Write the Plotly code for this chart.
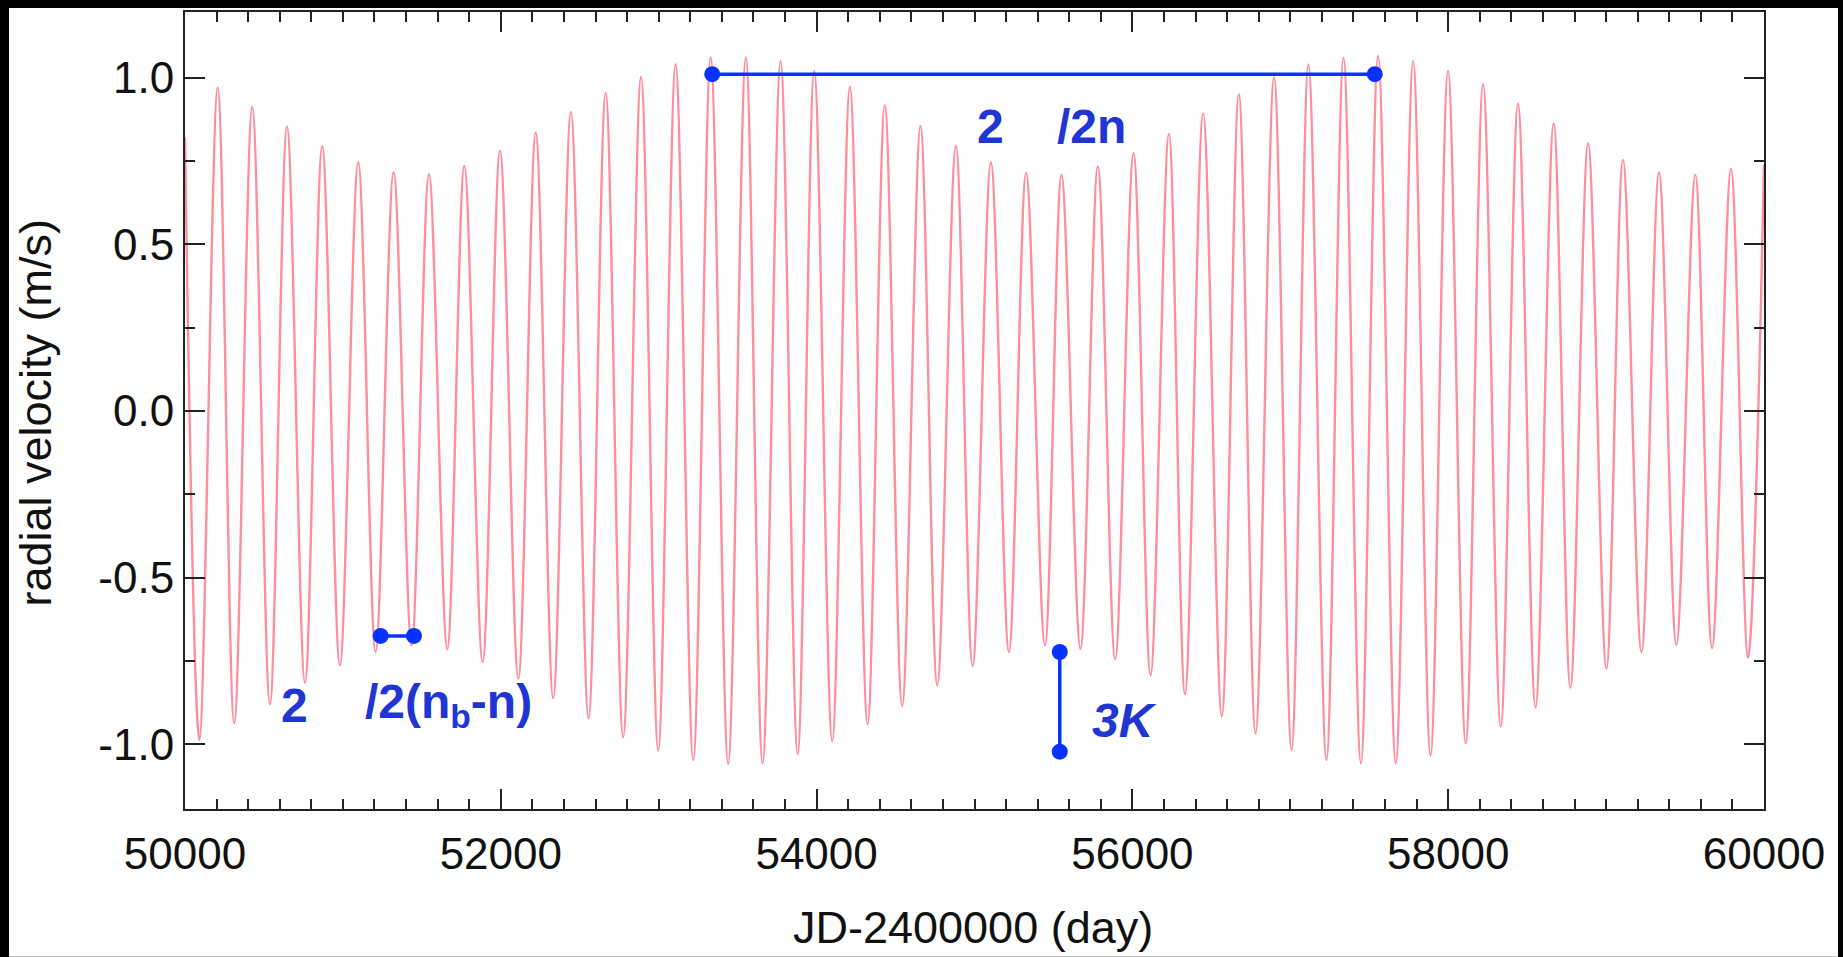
import plotly.graph_objects as go

# ---- data ----
start_day, start_rv = 50000, 0.82
end_day, end_rv = 60000, 0.74

peak_days = [50207, 50426, 50646, 50869, 51097, 51321, 51545, 51769, 51995, 52221,
             52444, 52664, 52888, 53107, 53329, 53552, 53772, 53985, 54211, 54432,
             54658, 54882, 55104, 55327, 55551, 55781, 56007, 56231, 56448, 56674,
             56897, 57115, 57337, 57556, 57778, 57999, 58221, 58442, 58668, 58886,
             59107, 59335, 59565, 59791]
peak_rv = [0.970, 0.912, 0.853, 0.794, 0.745, 0.715, 0.710, 0.735, 0.780, 0.835,
           0.897, 0.954, 1.002, 1.040, 1.060, 1.060, 1.049, 1.020, 0.972, 0.917,
           0.855, 0.795, 0.745, 0.714, 0.708, 0.733, 0.773, 0.831, 0.892, 0.950,
           1.000, 1.039, 1.059, 1.065, 1.049, 1.020, 0.980, 0.922, 0.862, 0.803,
           0.753, 0.715, 0.708, 0.726]

trough_days = [50091, 50312, 50538, 50760, 50981, 51207, 51435, 51661, 51885, 52111,
               52332, 52556, 52775, 52997, 53219, 53440, 53658, 53880, 54099, 54323,
               54542, 54764, 54988, 55218, 55446, 55671, 55891, 56115, 56333, 56566,
               56780, 57008, 57229, 57447, 57668, 57888, 58111, 58333, 58553, 58774,
               59002, 59224, 59445, 59671, 59899]
trough_rv = [-0.987, -0.937, -0.880, -0.815, -0.763, -0.723, -0.703, -0.715, -0.753, -0.803,
             -0.862, -0.922, -0.979, -1.019, -1.047, -1.059, -1.057, -1.029, -0.990, -0.940,
             -0.885, -0.823, -0.765, -0.723, -0.703, -0.713, -0.745, -0.793, -0.850, -0.916,
             -0.967, -1.017, -1.047, -1.057, -1.057, -1.034, -0.997, -0.947, -0.889, -0.830,
             -0.773, -0.723, -0.701, -0.711, -0.740]

x_tick_vals = [50000, 52000, 54000, 56000, 58000, 60000]
x_tick_text = ["50000", "52000", "54000", "56000", "58000", "60000"]
y_tick_vals = [-1.0, -0.5, 0.0, 0.5, 1.0]
y_tick_text = ["-1.0", "-0.5", "0.0", "0.5", "1.0"]

# annotation markers (blue)
beat_x = [53339, 57535]
beat_y = [1.010, 1.010]
inner_x = [51239, 51450]
inner_y = [-0.675, -0.675]
amp_x = [55540, 55540]
amp_y = [-0.723, -1.022]

# ---- build curve from extrema ----
pts = [(start_day, start_rv)] + list(zip(peak_days, peak_rv)) + list(zip(trough_days, trough_rv)) + [(end_day, end_rv)]
pts.sort()
days = [p[0] for p in pts]
rv = [p[1] for p in pts]

FONT = "Liberation Sans, Arial, Helvetica, sans-serif"
BLUE_LINE = "#0a32ff"
BLUE_TEXT = "#1f36d4"

fig = go.Figure()
fig.add_trace(go.Scatter(x=days, y=rv, mode="lines",
                         line=dict(color="rgba(255,30,60,0.5)", width=2.4, shape="spline", smoothing=1.0),
                         hoverinfo="skip", showlegend=False))
for xs, ys in [(beat_x, beat_y), (inner_x, inner_y), (amp_x, amp_y)]:
    fig.add_trace(go.Scatter(x=xs, y=ys, mode="lines+markers",
                             line=dict(color=BLUE_LINE, width=3.5),
                             marker=dict(color=BLUE_LINE, size=16),
                             hoverinfo="skip", showlegend=False))

L, R, T, B = 185, 79, 10, 148
W, H = 1843, 957
pw, ph = W - L - R, H - T - B

def px_x(px):
    return (px - L) / pw

def px_y(py):
    return (H - B - py) / ph

axis_common = dict(showline=True, linecolor="#222", linewidth=2, mirror="ticks",
                   ticks="inside", ticklen=20, tickwidth=2, tickcolor="#222",
                   showgrid=False, zeroline=False,
                   tickfont=dict(family=FONT, size=44, color="#111"))

fig.update_xaxes(range=[50000, 60000], tickvals=x_tick_vals, ticktext=x_tick_text,
                 ticklabelstandoff=5,
                 minor=dict(dtick=200, ticks="inside", ticklen=10, tickwidth=2, tickcolor="#222", showgrid=False),
                 **axis_common)
fig.update_yaxes(range=[-1.194, 1.1965], tickvals=y_tick_vals, ticktext=y_tick_text,
                 minor=dict(dtick=0.25, tick0=0, ticks="inside", ticklen=10, tickwidth=2, tickcolor="#222", showgrid=False),
                 **axis_common)

annots = [
    dict(text="radial velocity (m/s)", x=px_x(35.6), y=px_y(412), textangle=-90,
         font=dict(family=FONT, size=45, color="#111")),
    dict(text="JD-2400000 (day)", x=px_x(973), y=px_y(928),
         font=dict(family=FONT, size=45, color="#111")),
]
for a in annots:
    a.update(xref="paper", yref="paper", showarrow=False, xanchor="center", yanchor="middle")

labels = [
    ("<b>2</b>", 55002, 0.8525),
    ("<b>/2n</b>", 55510, 0.8525),
    ("<b>2</b>", 50597, -0.8825),
    ("<b>/2(n<sub>b</sub>-n)</b>", 51129, -0.8825),
    ("<b><i>3K</i></b>", 55730, -0.930),
]
for txt, x, y in labels:
    annots.append(dict(text=txt, x=x, y=y, xref="x", yref="y", showarrow=False,
                       xanchor="left", yanchor="middle",
                       font=dict(family=FONT, size=48, color=BLUE_TEXT)))

fig.update_layout(
    width=W, height=H, autosize=False,
    margin=dict(l=L, r=R, t=T, b=B, pad=0),
    paper_bgcolor="black", plot_bgcolor="white",
    annotations=annots,
    shapes=[dict(type="rect", xref="paper", yref="paper",
                 x0=px_x(9), x1=px_x(1838), y0=px_y(957), y1=px_y(6),
                 fillcolor="white", line=dict(width=0), layer="below")],
)

fig.write_html("out.html")
